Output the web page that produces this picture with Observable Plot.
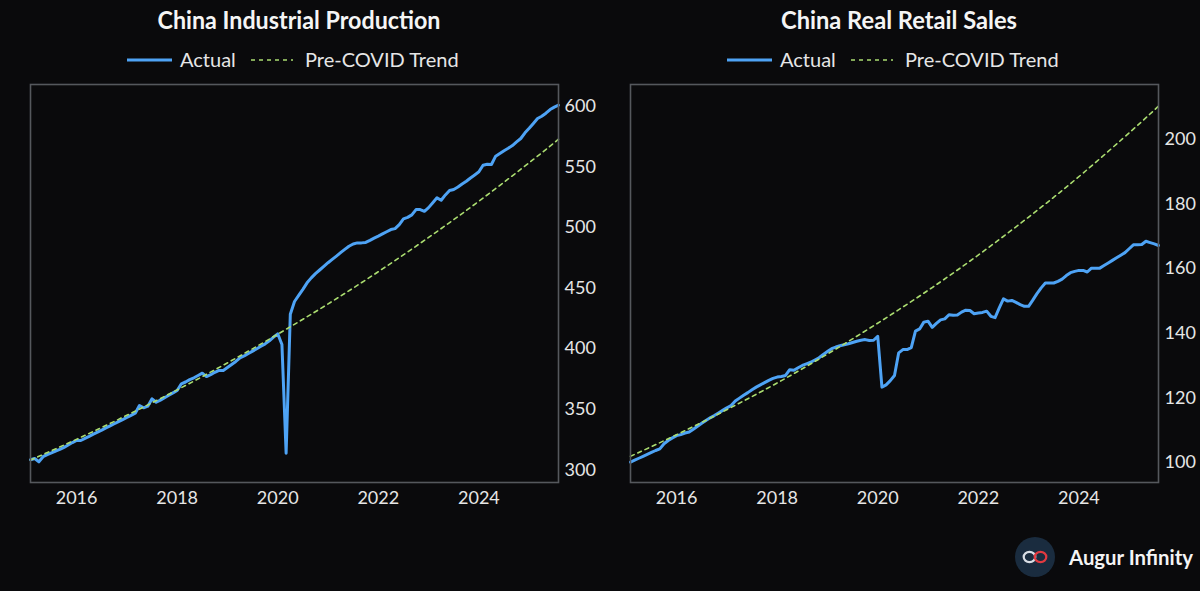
<!DOCTYPE html>
<html>
<head>
<meta charset="utf-8">
<script src="https://cdn.jsdelivr.net/npm/d3@7"></script>
<script src="https://cdn.jsdelivr.net/npm/@observablehq/plot@0.6"></script>
<style>
  html, body { margin: 0; padding: 0; background: #0a0a0c; }
  #page { position: relative; width: 1200px; height: 591px; background: #0a0a0c; overflow: hidden; font-family: Lato, "Noto Sans", sans-serif; }
  .panel { position: absolute; top: 74px; width: 600px; height: 440px; }
  svg text { font-family: Lato, "Noto Sans", sans-serif; }
</style>
</head>
<body>
<div id="page">
  <svg id="header" width="1200" height="80" style="position:absolute;left:0;top:0"></svg>
  <div class="panel" id="p1" style="left:0px"></div>
  <div class="panel" id="p2" style="left:600px"></div>
  <svg id="logo" width="1200" height="591" style="position:absolute;left:0;top:0;pointer-events:none">
    <circle cx="1035" cy="557" r="20" fill="#1a2c3f"></circle>
    <ellipse cx="1029.5" cy="557" rx="5.8" ry="5.2" fill="none" stroke="#d9dee5" stroke-width="2.2"></ellipse>
    <ellipse cx="1040.5" cy="557" rx="5.8" ry="5.2" fill="none" stroke="#e23a40" stroke-width="2.2"></ellipse>
    <text x="1069" y="564.5" fill="#f4f4f4" font-size="21" font-weight="700" textLength="124" lengthAdjust="spacingAndGlyphs">Augur Infinity</text>
  </svg>
</div>
<script>
// ---------- DATA ----------
const titles = ["China Industrial Production", "China Real Retail Sales"];
const legendLabels = ["Actual", "Pre-COVID Trend"];

const startYear = 2015, startMonth = 1, endYear = 2025, endMonth = 7; // monthly, Jan 2015 - Jul 2025
const xTicks = [2016, 2018, 2020, 2022, 2024];

// China industrial production index (monthly, Jan 2015 - Jul 2025)
const ipActual = [
  308.3, 309.3, 306.6, 310.8, 312.5, 314.0, 315.5, 316.8, 318.5, 320.5, 322.5, 324.2, // 2015
  324.2, 325.9, 327.6, 329.4, 331.1, 332.8, 334.6, 336.3, 338.0, 339.8, 341.5, 343.2, // 2016
  345.0, 346.7, 353.1, 351.2, 352.5, 358.6, 355.8, 357.5, 359.5, 361.5, 363.5, 365.5, // 2017
  371.0, 372.5, 374.5, 376.0, 377.9, 379.8, 377.0, 378.5, 380.5, 382.0, 382.0, 384.5, // 2018
  387.0, 389.5, 392.5, 394.0, 396.0, 398.0, 400.0, 402.0, 404.0, 406.5, 409.5, 412.3, // 2019
  403.5, 313.7, 428.5, 439.0, 444.0, 449.0, 454.4, 458.5, 462.0, 465.0, 468.0, 471.0, // 2020
  473.8, 476.5, 479.3, 482.0, 484.6, 486.5, 487.4, 487.4, 487.8, 489.5, 491.3, 493.0, // 2021
  494.8, 496.6, 498.4, 499.2, 502.5, 507.2, 508.5, 510.5, 514.9, 514.9, 513.5, 516.5, // 2022
  520.5, 524.6, 522.6, 527.0, 530.6, 531.5, 533.5, 536.0, 538.3, 541.0, 543.5, 546.1, // 2023
  551.5, 552.3, 552.1, 559.0, 561.2, 563.5, 565.5, 567.8, 570.8, 573.6, 578.3, 582.0, // 2024
  586.0, 590.1, 592.0, 594.5, 597.5, 599.5, 601.1                                      // 2025
];

// China real retail sales index (monthly, Jan 2015 - Jul 2025)
const retailActual = [
  100.1, 100.7, 101.3, 101.9, 102.5, 103.1, 103.7, 104.2, 105.8, 106.8, 107.6, 108.3, // 2015
  108.6, 109.1, 109.4, 110.3, 111.2, 112.1, 113.0, 113.8, 114.5, 115.3, 116.1, 116.9, // 2016
  117.6, 119.0, 119.9, 120.8, 121.6, 122.5, 123.3, 124.0, 124.7, 125.4, 126.0, 126.4, // 2017
  126.6, 126.9, 128.7, 128.5, 129.3, 130.0, 130.5, 131.0, 131.7, 132.4, 133.4, 134.3, // 2018
  135.2, 135.7, 136.1, 136.4, 136.7, 137.1, 137.5, 137.8, 138.0, 137.7, 137.8, 139.0, // 2019
  123.3, 124.0, 125.3, 126.9, 133.9, 134.9, 134.9, 135.5, 140.6, 141.3, 143.4, 143.7, // 2020
  141.8, 143.0, 144.1, 144.4, 145.7, 145.5, 145.6, 146.5, 147.1, 147.0, 146.0, 146.2, // 2021
  146.4, 146.8, 145.2, 144.8, 147.8, 150.6, 149.9, 150.1, 149.5, 148.8, 148.3, 148.3, // 2022
  150.2, 152.2, 154.0, 155.5, 155.5, 155.5, 156.0, 156.7, 157.8, 158.7, 159.1, 159.4, // 2023
  159.4, 158.9, 160.1, 160.1, 160.1, 160.9, 161.7, 162.5, 163.3, 164.1, 164.9, 166.1, // 2024
  167.3, 167.3, 167.4, 168.4, 168.0, 167.6, 167.1                                      // 2025
];

// Pre-COVID trend lines, read at each January (and the last month)
const trendYears  = [2015, 2016, 2017, 2018, 2019, 2020, 2021, 2022, 2023, 2024, 2025, 2025.5];
const ipTrend     = [308.0, 326.8, 346.7, 367.8, 390.2, 414.0, 439.1, 465.9, 494.3, 524.4, 556.3, 573.0];
const retailTrend = [101.9, 109.2, 117.0, 125.3, 134.3, 143.9, 154.1, 165.1, 176.9, 189.5, 203.1, 210.2];

const ipTicks = [300, 350, 400, 450, 500, 550, 600];
const retailTicks = [100, 120, 140, 160, 180, 200];
const ipDomain = [289.5, 618.2];
const retailDomain = [93.8, 216.9];

// ---------- BUILD ----------
const months = [];
for (let y = startYear; y <= endYear; y++) {
  for (let m = 1; m <= 12; m++) {
    if (y === startYear && m < startMonth) continue;
    if (y === endYear && m > endMonth) break;
    months.push(y + m / 12); // month-end position
  }
}
const trendX = trendYears.map(y => y + 1 / 12);
const xDomain = [months[0], months[months.length - 1]];

const BLUE = "#4ea3f5";
const GREEN = "#abdd70";
const TEXT = "#e6e6e6";

function panel(el, actual, trend, yDomain, yTicks) {
  const actualData = months.map((x, i) => ({x, y: actual[i]}));
  const trendData = trendX.map((x, i) => ({x, y: trend[i]}));
  const chart = Plot.plot({
    width: 600,
    height: 440,
    marginTop: 10,
    marginBottom: 32,
    marginLeft: 30,
    marginRight: 42,
    style: {background: "transparent", color: TEXT, fontFamily: "Lato, 'Noto Sans', sans-serif", fontSize: "18px"},
    x: {domain: xDomain, label: null},
    y: {domain: yDomain, label: null},
    marks: [
      Plot.axisX({ticks: xTicks, tickFormat: "d", tickSize: 0, tickPadding: 9, label: null, fontSize: 18}),
      Plot.axisY({anchor: "right", ticks: yTicks, tickSize: 0, tickPadding: 6, label: null, fontSize: 18}),
      Plot.line(actualData, {x: "x", y: "y", stroke: BLUE, strokeWidth: 3, strokeLinejoin: "round"}),
      Plot.line(trendData, {x: "x", y: "y", stroke: GREEN, strokeWidth: 1.6, strokeDasharray: "4,4", curve: "natural"}),
      Plot.frame({stroke: "#55585d", strokeWidth: 1.6})
    ]
  });
  document.getElementById(el).appendChild(chart);
}

panel("p1", ipActual, ipTrend, ipDomain, ipTicks);
panel("p2", retailActual, retailTrend, retailDomain, retailTicks);

// header: titles + legends
const header = d3.select("#header");
const titleCenters = [299, 899];
const titleWidths = [283, 236];
titles.forEach((t, i) => {
  const off = i * 600;
  header.append("text")
    .attr("x", titleCenters[i]).attr("y", 29)
    .attr("text-anchor", "middle")
    .attr("fill", "#f5f5f5")
    .attr("font-size", 24).attr("font-weight", 700)
    .attr("textLength", titleWidths[i]).attr("lengthAdjust", "spacingAndGlyphs")
    .text(t);
  header.append("line").attr("x1", 127 + off).attr("x2", 172 + off).attr("y1", 60).attr("y2", 60)
    .attr("stroke", BLUE).attr("stroke-width", 3.2);
  header.append("text").attr("x", 180 + off).attr("y", 67).attr("fill", TEXT).attr("font-size", 20)
    .text(legendLabels[0]);
  header.append("line").attr("x1", 251 + off).attr("x2", 293 + off).attr("y1", 60).attr("y2", 60)
    .attr("stroke", GREEN).attr("stroke-width", 1.6).attr("stroke-dasharray", "4,4");
  header.append("text").attr("x", 305 + off).attr("y", 67).attr("fill", TEXT).attr("font-size", 20)
    .text(legendLabels[1]);
});
</script>
</body>
</html>
